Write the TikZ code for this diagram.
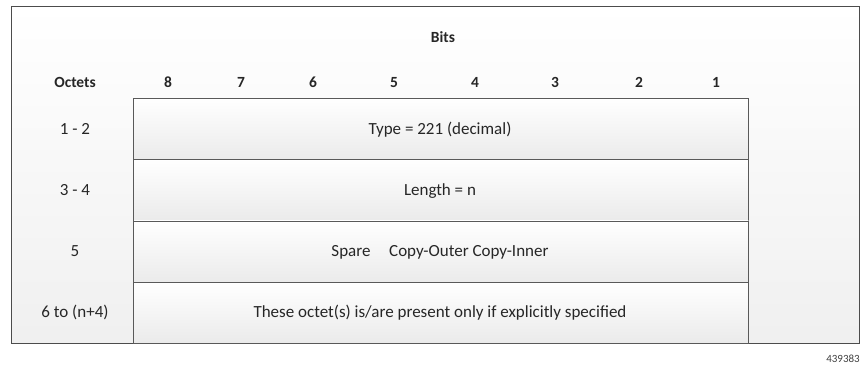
\documentclass[tikz,border=0pt]{standalone}
\usepackage{fontspec}
\setmainfont[Numbers=Lining]{Carlito}
\begin{document}
\begin{tikzpicture}[x=1pt,y=-1pt,
  lab/.style={font=\fontsize{17}{20}\selectfont, text=black!85, anchor=base},
  hdr/.style={font=\bfseries\fontsize{15.5}{18}\selectfont, text=black!85, anchor=base},
  cell/.style={draw=black!65, line width=0.8pt, top color=white, bottom color=black!8},
  frame/.style={draw=black!70, line width=0.9pt, top color=white, bottom color=black!6}]
\useasboundingbox (0,0) rectangle (860,368);
\path[frame] (11,6) rectangle (859.5,343);
\node[hdr] (bits) at (443,42) {Bits};
\node[hdr] (oct) at (75,87) {Octets};
\foreach \b/\x in {8/168,7/241,6/313,5/394,4/475,3/555,2/639,1/716}
  \node[hdr] (b\b) at (\x,87) {\b};
\node[cell, minimum width=615pt, minimum height=61pt, anchor=north west, inner sep=0pt] (r1) at (133,98) {};
\node[cell, minimum width=615pt, minimum height=61pt, anchor=north west, inner sep=0pt] (r2) at (133,159) {};
\node[cell, minimum width=615pt, minimum height=61pt, anchor=north west, inner sep=0pt] (r3) at (133,220.5) {};
\node[cell, minimum width=615pt, minimum height=61pt, anchor=north west, inner sep=0pt] (r4) at (133,282) {};
\draw[draw=black!65, line width=0.8pt] (r1.north west) -- (r4.south west);
\node[lab] (t1) at (440,134.5) {Type = 221 (decimal)};
\node[lab] (t2) at (440,195.5) {Length = n};
\node[lab] (t3) at (440,256.5) {Spare\hspace{1.1em}Copy-Outer Copy-Inner};
\node[lab] (t4) at (440,317.5) {These octet(s) is/are present only if explicitly specified};
\node[lab] (o1) at (75,134.5) {1 - 2};
\node[lab] (o2) at (75,195.5) {3 - 4};
\node[lab] (o3) at (75,256.5) {5};
\node[lab] (o4) at (75,317.5) {6 to (n+4)};
\node[font=\fontsize{11}{13}\selectfont, text=black!75, anchor=base] (id) at (843,362) {439383};
\end{tikzpicture}
\end{document}
